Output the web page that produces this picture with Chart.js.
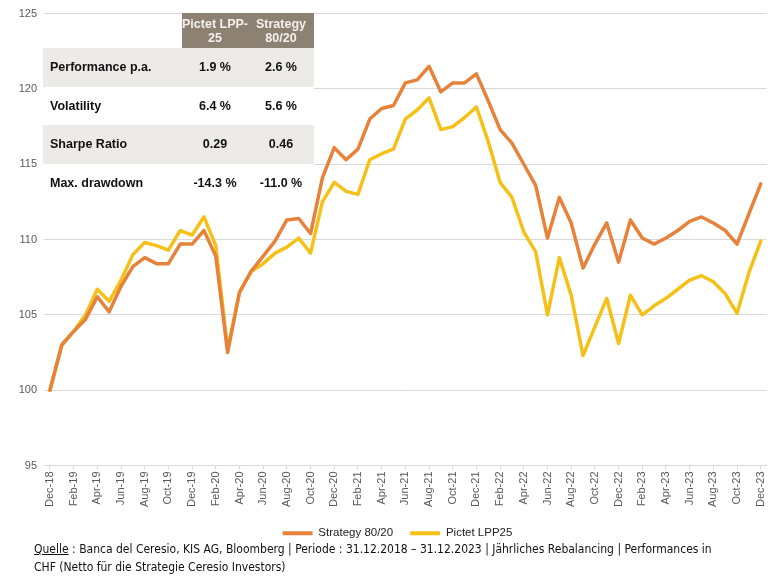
<!DOCTYPE html>
<html>
<head>
<meta charset="utf-8">
<script src="https://cdn.jsdelivr.net/npm/chart.js@4.4.1/dist/chart.umd.min.js"></script>
<style>
    html, body { margin: 0; padding: 0; background: #fff; }
    #wrap { position: relative; width: 776px; height: 581px; overflow: hidden; }
    #chart { position: absolute; left: 0; top: 0; }
    #stats { position: absolute; left: 43px; top: 13px; border-collapse: collapse;
             font-family: "Liberation Sans", Arial, sans-serif; font-weight: bold; font-size: 12.5px; color: #111; }
    #stats td, #stats th { padding: 0; }
    #stats th { background: #8d8174; color: #f4f1ec; height: 35px; line-height: 14px; font-size: 12.5px; text-align: center; }
    #stats th.blank { background: transparent; }
    #stats td { height: 38.5px; }
    #stats td.lbl { width: 132px; padding-left: 7px; }
    #stats td.val { width: 66px; text-align: center; }
    #stats tr.shade td { background: #edebe7; }
    #stats tr.plain td { background: #fff; }
    #footer { position: absolute; left: 34px; top: 540px; font-family: "Liberation Sans Narrow", "DejaVu Sans Condensed", sans-serif;
              font-size: 12px; line-height: 18px; color: #111; width: 730px; }
    #footer u { text-decoration: underline; }
</style>
</head>
<body>
<div id="wrap">
    <canvas id="chart" width="776" height="549"></canvas>
    <table id="stats">
        <tr><th class="blank" style="width:139px"></th><th style="width:66px">Pictet LPP-<br>25</th><th style="width:66px">Strategy<br>80/20</th></tr>
        <tr class="shade"><td class="lbl">Performance p.a.</td><td class="val">1.9 %</td><td class="val">2.6 %</td></tr>
        <tr class="plain"><td class="lbl">Volatility</td><td class="val">6.4 %</td><td class="val">5.6 %</td></tr>
        <tr class="shade"><td class="lbl">Sharpe Ratio</td><td class="val">0.29</td><td class="val">0.46</td></tr>
        <tr class="plain"><td class="lbl">Max. drawdown</td><td class="val">-14.3 %</td><td class="val">-11.0 %</td></tr>
    </table>
    <div id="footer"><u>Quelle</u> : Banca del Ceresio, KIS AG, Bloomberg | Periode : 31.12.2018 – 31.12.2023 | Jährliches Rebalancing | Performances in<br>CHF (Netto für die Strategie Ceresio Investors)</div>
</div>
<script>
// Monthly points, Dec-18 .. Dec-23
const months = [
    'Dec-18', 'Jan-19', 'Feb-19', 'Mar-19', 'Apr-19', 'May-19', 'Jun-19', 'Jul-19', 'Aug-19', 'Sep-19', 'Oct-19', 'Nov-19',
    'Dec-19', 'Jan-20', 'Feb-20', 'Mar-20', 'Apr-20', 'May-20', 'Jun-20', 'Jul-20', 'Aug-20', 'Sep-20', 'Oct-20', 'Nov-20',
    'Dec-20', 'Jan-21', 'Feb-21', 'Mar-21', 'Apr-21', 'May-21', 'Jun-21', 'Jul-21', 'Aug-21', 'Sep-21', 'Oct-21', 'Nov-21',
    'Dec-21', 'Jan-22', 'Feb-22', 'Mar-22', 'Apr-22', 'May-22', 'Jun-22', 'Jul-22', 'Aug-22', 'Sep-22', 'Oct-22', 'Nov-22',
    'Dec-22', 'Jan-23', 'Feb-23', 'Mar-23', 'Apr-23', 'May-23', 'Jun-23', 'Jul-23', 'Aug-23', 'Sep-23', 'Oct-23', 'Nov-23',
    'Dec-23'
];

const strategy8020 = [
    100.0, 103.0, 103.9, 104.7, 106.2, 105.2, 106.9, 108.2, 108.8, 108.4, 108.4, 109.7,
    109.7, 110.6, 108.9, 102.5, 106.5, 107.9, 108.9, 109.9, 111.3, 111.4, 110.4, 114.1,
    116.1, 115.3, 116.0, 118.0, 118.7, 118.9, 120.4, 120.6, 121.5, 119.8, 120.4, 120.4,
    121.0, 119.2, 117.3, 116.4, 115.0, 113.6, 110.1, 112.8, 111.1, 108.1, 109.7, 111.1,
    108.5, 111.3, 110.1, 109.7, 110.1, 110.6, 111.2, 111.5, 111.1, 110.6, 109.7, 111.7,
    113.7
];

const pictetLpp25 = [
    100.0, 103.0, 103.9, 105.0, 106.7, 105.9, 107.3, 109.0, 109.8, 109.6, 109.3, 110.6,
    110.3, 111.5, 109.6, 102.7, 106.5, 107.9, 108.4, 109.1, 109.5, 110.1, 109.1, 112.5,
    113.8, 113.2, 113.0, 115.3, 115.7, 116.0, 118.0, 118.6, 119.4, 117.3, 117.5, 118.1,
    118.8, 116.5, 113.8, 112.8, 110.5, 109.2, 105.0, 108.8, 106.3, 102.3, 104.2, 106.1,
    103.1, 106.3, 105.0, 105.6, 106.1, 106.7, 107.3, 107.6, 107.2, 106.4, 105.1, 107.8,
    109.9
];

const yTicks = { min: 95, max: 125, step: 5 };

const colors = {
    strategy: '#e7823b',
    pictet: '#f5c119',
    grid: '#d9d9d9',
    text: '#595959'
};

// nudge the legend a bit to the right, like the original
const legendShift = {
    id: 'legendShift',
    afterLayout(chart) {
        chart.legend.left += 13;
        chart.legend.right += 13;
    }
};

const ctx = document.getElementById('chart').getContext('2d');

new Chart(ctx, {
    type: 'line',
    data: {
        labels: months,
        datasets: [
            {
                label: 'Strategy 80/20',
                data: strategy8020,
                borderColor: colors.strategy,
                backgroundColor: colors.strategy,
                borderWidth: 3.5,
                pointRadius: 0,
                tension: 0,
                borderJoinStyle: 'round',
                borderCapStyle: 'round'
            },
            {
                label: 'Pictet LPP25',
                data: pictetLpp25,
                borderColor: colors.pictet,
                backgroundColor: colors.pictet,
                borderWidth: 3.5,
                pointRadius: 0,
                tension: 0,
                borderJoinStyle: 'round',
                borderCapStyle: 'round'
            }
        ]
    },
    plugins: [legendShift],
    options: {
        responsive: false,
        animation: false,
        devicePixelRatio: 1,
        layout: { padding: { top: 13, right: 7, left: 0, bottom: 0 } },
        plugins: {
            tooltip: { enabled: false },
            legend: {
                position: 'bottom',
                labels: {
                    boxWidth: 30,
                    boxHeight: 4,
                    padding: 17,
                    color: '#222',
                    font: { family: 'Liberation Sans', size: 11.5 },
                    generateLabels: chart => Chart.defaults.plugins.legend.labels.generateLabels(chart)
                        .map(item => Object.assign(item, { lineWidth: 0 }))
                }
            }
        },
        scales: {
            x: {
                offset: true,
                afterFit: scale => { scale.height = 45; },
                border: { color: colors.grid },
                grid: {
                    drawOnChartArea: false,
                    tickLength: 4,
                    color: c => (c.index % 2 === 0 ? colors.grid : 'rgba(0,0,0,0)')
                },
                ticks: {
                    autoSkip: false,
                    minRotation: 90,
                    maxRotation: 90,
                    padding: 2,
                    color: colors.text,
                    font: { family: 'Liberation Sans', size: 11 },
                    callback: (v, i) => (i % 2 === 0 ? months[i] : '')
                }
            },
            y: {
                min: yTicks.min,
                max: yTicks.max,
                afterFit: scale => { scale.width = 44; },
                border: { display: false },
                grid: { color: colors.grid, drawTicks: false },
                ticks: {
                    stepSize: yTicks.step,
                    padding: 7,
                    color: colors.text,
                    font: { family: 'Liberation Sans', size: 11 }
                }
            }
        }
    }
});
</script>
</body>
</html>
